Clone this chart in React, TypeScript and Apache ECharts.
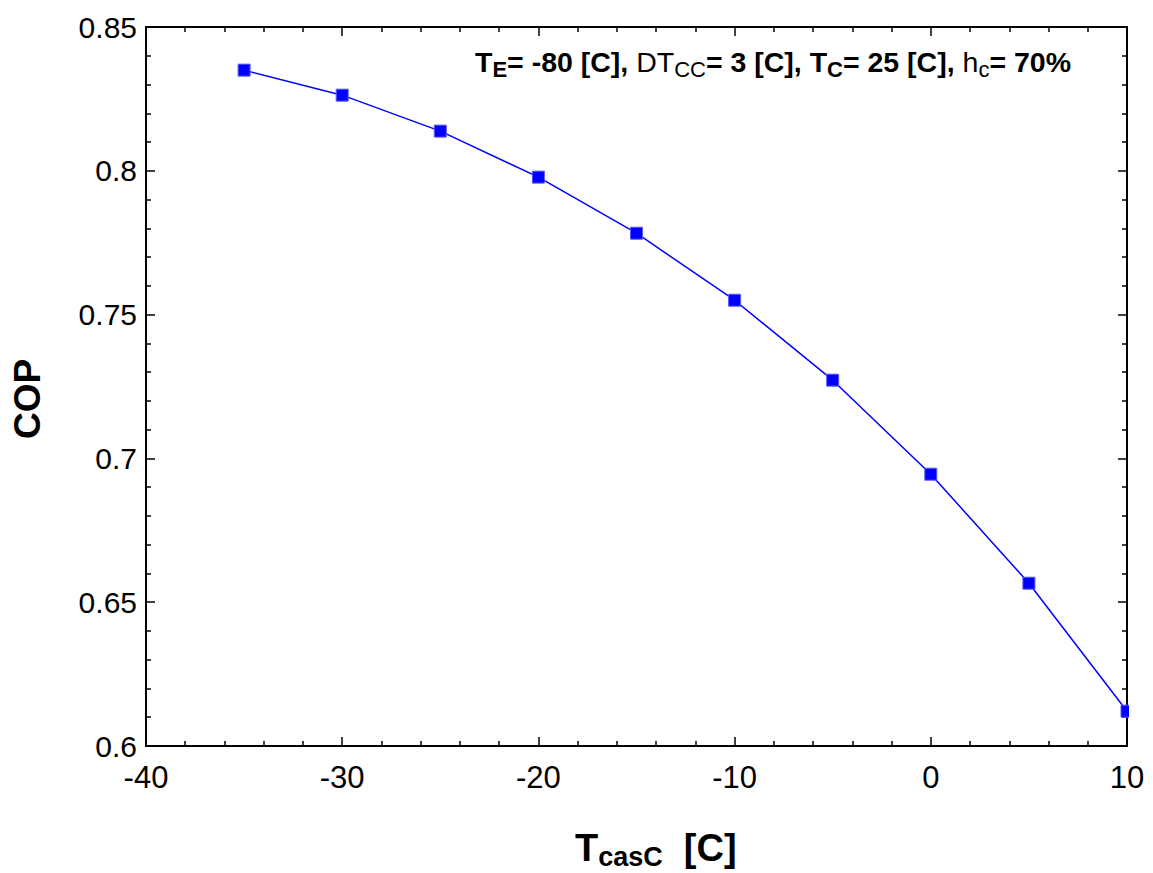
import React, { useEffect, useRef } from "react";
import * as echarts from "echarts";

const tCasC = [-35, -30, -25, -20, -15, -10, -5, 0, 5, 10];
const cop = [0.835, 0.8263, 0.8138, 0.7978, 0.7783, 0.755, 0.7272, 0.6945, 0.6566, 0.6121];
const xTicks = { min: -40, max: 10, interval: 10 };
const yTicks = { min: 0.6, max: 0.85, interval: 0.05 };
const annotation =
  "{b|T}{sb|E}{b|= -80 [C], }{n|DT}{sn|CC}{b|= 3 [C], }{b|T}{sb|C}{b|= 25 [C], }{n|h}{sn|c}{b|= 70%}";

const FONT = "'Liberation Sans', Arial, Helvetica, sans-serif";

export default function App() {
  const ref = useRef<HTMLDivElement>(null);
  useEffect(() => {
    document.body.style.margin = "0";
    const chart = echarts.init(ref.current!, null, { renderer: "svg" });
    const axisLine = { show: true, onZero: false, lineStyle: { color: "#000", width: 2 } };
    const axisTick = { show: true, inside: true, length: 9, lineStyle: { color: "#000", width: 1.5 } };
    const minorTick = { show: true, splitNumber: 5, length: 5, lineStyle: { color: "#000", width: 1.5 } };
    chart.setOption({
      animation: false,
      backgroundColor: "#fff",
      textStyle: { fontFamily: FONT },
      grid: { left: 146, right: 26, top: 27, bottom: 127, containLabel: false, outerBoundsMode: "none" },
      xAxis: [
        {
          type: "value",
          position: "bottom",
          min: xTicks.min,
          max: xTicks.max,
          interval: xTicks.interval,
          axisLine,
          axisTick,
          minorTick,
          splitLine: { show: false },
          axisLabel: { show: true, fontSize: 31, color: "#000", margin: 16, fontFamily: FONT },
        },
        {
          type: "value",
          position: "top",
          min: xTicks.min,
          max: xTicks.max,
          interval: xTicks.interval,
          axisLine,
          axisTick,
          minorTick,
          splitLine: { show: false },
          axisLabel: { show: false },
        },
      ],
      yAxis: [
        {
          type: "value",
          position: "left",
          min: yTicks.min,
          max: yTicks.max,
          interval: yTicks.interval,
          axisLine,
          axisTick,
          minorTick,
          splitLine: { show: false },
          axisLabel: {
            show: true,
            fontSize: 30,
            color: "#000",
            margin: 9,
            fontFamily: FONT,
            formatter: (v: number) => String(Math.round(v * 100) / 100),
          },
        },
        {
          type: "value",
          position: "right",
          min: yTicks.min,
          max: yTicks.max,
          interval: yTicks.interval,
          axisLine,
          axisTick,
          minorTick,
          splitLine: { show: false },
          axisLabel: { show: false },
        },
      ],
      series: [
        {
          type: "line",
          data: tCasC.map((x, i) => [x, cop[i]]),
          xAxisIndex: 0,
          yAxisIndex: 0,
          symbol: "rect",
          symbolSize: 12,
          showSymbol: true,
          clip: false,
          lineStyle: { color: "#0000ff", width: 1.5 },
          itemStyle: { color: "#0000ff", borderColor: "#5a5aff", borderWidth: 1 },
          z: 2,
        },
      ],
      graphic: [
        {
          type: "rect",
          shape: { x: 1129, y: 680, width: 24, height: 60 },
          style: { fill: "#fff" },
          z: 100,
        },
        {
          type: "text",
          x: 27,
          y: 399,
          rotation: Math.PI / 2,
          style: {
            text: "COP",
            align: "center",
            verticalAlign: "middle",
            font: `bold 37px ${FONT}`,
            fill: "#000",
          },
        },
        {
          type: "text",
          x: 575,
          y: 826,
          style: {
            text: "{m|T}{s|casC}{m|  [C]}",
            align: "left",
            verticalAlign: "top",
            fill: "#000",
            rich: {
              m: { fontSize: 38, fontWeight: "bold", fontFamily: FONT, lineHeight: 44, verticalAlign: "middle", fill: "#000" },
              s: { fontSize: 27, fontWeight: "bold", fontFamily: FONT, lineHeight: 27, verticalAlign: "bottom", fill: "#000" },
            },
          },
        },
        {
          type: "text",
          x: 475,
          y: 44,
          style: {
            text: annotation,
            align: "left",
            verticalAlign: "top",
            fill: "#000",
            rich: {
              b: { fontSize: 28.5, fontWeight: "bold", fontFamily: FONT, lineHeight: 36, verticalAlign: "middle", fill: "#000" },
              n: { fontSize: 28.5, fontWeight: "normal", fontFamily: FONT, lineHeight: 36, verticalAlign: "middle", fill: "#000" },
              sb: { fontSize: 22, fontWeight: "bold", fontFamily: FONT, lineHeight: 18, verticalAlign: "bottom", fill: "#000" },
              sn: { fontSize: 22, fontWeight: "normal", fontFamily: FONT, lineHeight: 18, verticalAlign: "bottom", fill: "#000" },
            },
          },
        },
      ],
    });
    return () => chart.dispose();
  }, []);
  return <div ref={ref} style={{ width: 1153, height: 873 }} />;
}
